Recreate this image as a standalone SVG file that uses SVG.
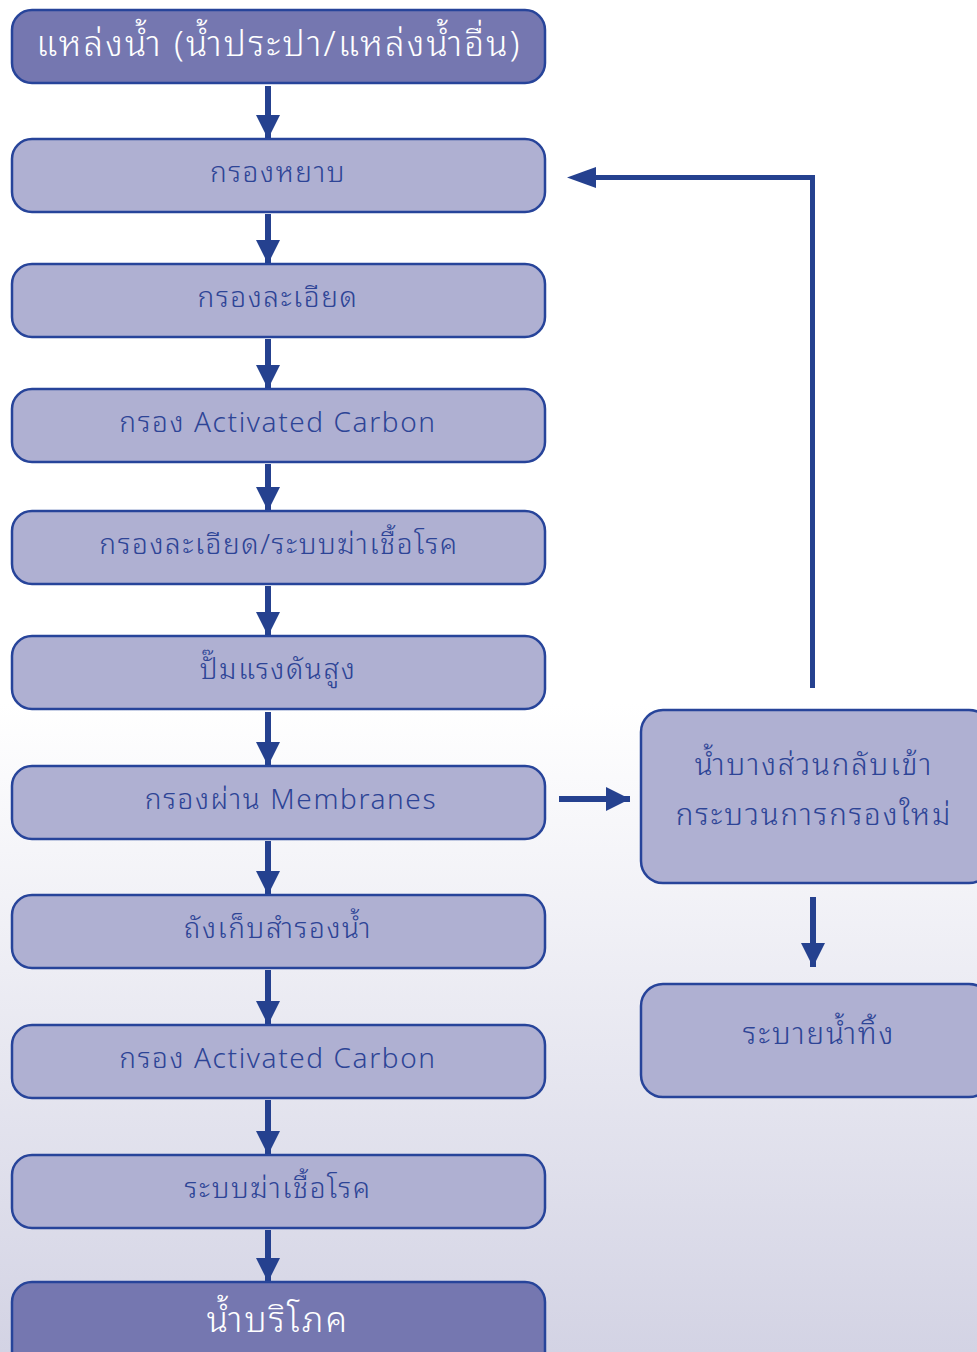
<svg xmlns="http://www.w3.org/2000/svg" width="977" height="1352" viewBox="0 0 977 1352">
<defs>
<linearGradient id="bg" x1="0" y1="0" x2="0" y2="1352" gradientUnits="userSpaceOnUse">
<stop offset="0" stop-color="#ffffff"/>
<stop offset="0.52" stop-color="#ffffff"/>
<stop offset="1" stop-color="#d3d3e4"/>
</linearGradient>
<marker id="ah" viewBox="0 0 10 10" refX="10" refY="5" markerWidth="4" markerHeight="4.3" markerUnits="strokeWidth" orient="auto">
<path d="M0,0 L10,5 L0,10 Z" fill="#25418f"/>
</marker>
<style>
.box{fill:#afb0d2;stroke:#27449a;stroke-width:2.5}
.dark{fill:#7577b0;stroke:#27449a;stroke-width:2.5}
.t{font-family:"Noto Sans Thai Looped","Loma","Garuda","Kinnari","Sarabun","Noto Sans Thai","DejaVu Sans",sans-serif;font-size:28px;font-weight:300;letter-spacing:1.6px;fill:#2d4496;text-anchor:middle}
.t2{font-family:"Noto Sans Thai Looped","Loma","Garuda","Kinnari","Sarabun","Noto Sans Thai","DejaVu Sans",sans-serif;font-size:29.5px;font-weight:300;letter-spacing:1.9px;fill:#2d4496;text-anchor:middle}
.tw{font-family:"Noto Sans Thai Looped","Loma","Garuda","Kinnari","Sarabun","Noto Sans Thai","DejaVu Sans",sans-serif;font-size:35px;font-weight:300;letter-spacing:2.2px;fill:#ffffff;text-anchor:middle}
.c{fill:none;stroke:#25418f;stroke-width:6;marker-end:url(#ah)}
.cl{fill:none;stroke:#25418f;stroke-width:5}
</style>
</defs>
<rect width="977" height="1352" fill="url(#bg)"/>
<g id="connectors">
<path class="c" d="M268,86 V139"/>
<path class="c" d="M268,214 V264"/>
<path class="c" d="M268,339 V389"/>
<path class="c" d="M268,464 V511"/>
<path class="c" d="M268,586 V636"/>
<path class="c" d="M268,712 V766"/>
<path class="c" d="M268,841 V895"/>
<path class="c" d="M268,970 V1025"/>
<path class="c" d="M268,1100 V1155"/>
<path class="c" d="M268,1230 V1282"/>
<path class="c" d="M559,799 H630"/>
<path class="c" d="M813,897 V967"/>
<path class="cl" d="M812.5,688 V177.5 H590"/>
<path d="M567,177.5 L596,167 L596,188 Z" fill="#25418f"/>
</g>
<g id="n1"><rect class="dark" x="12" y="10" width="533" height="73" rx="20"/><text class="tw" x="279" y="56">แหล่งน้ำ (น้ำประปา/แหล่งน้ำอื่น)</text></g>
<g id="n2"><rect class="box" x="12" y="139" width="533" height="73" rx="20"/><text class="t" x="278" y="182">กรองหยาบ</text></g>
<g id="n3"><rect class="box" x="12" y="264" width="533" height="73" rx="20"/><text class="t" x="278" y="307">กรองละเอียด</text></g>
<g id="n4"><rect class="box" x="12" y="389" width="533" height="73" rx="20"/><text class="t" x="278" y="432">กรอง  Activated  Carbon</text></g>
<g id="n5"><rect class="box" x="12" y="511" width="533" height="73" rx="20"/><text class="t" x="279" y="554">กรองละเอียด/ระบบฆ่าเชื้อโรค</text></g>
<g id="n6"><rect class="box" x="12" y="636" width="533" height="73" rx="20"/><text class="t" x="278" y="679">ปั๊มแรงดันสูง</text></g>
<g id="n7"><rect class="box" x="12" y="766" width="533" height="73" rx="20"/><text class="t" x="291" y="809">กรองผ่าน  Membranes</text></g>
<g id="n8"><rect class="box" x="12" y="895" width="533" height="73" rx="20"/><text class="t" x="278" y="938">ถังเก็บสำรองน้ำ</text></g>
<g id="n9"><rect class="box" x="12" y="1025" width="533" height="73" rx="20"/><text class="t" x="278" y="1068">กรอง  Activated  Carbon</text></g>
<g id="n10"><rect class="box" x="12" y="1155" width="533" height="73" rx="20"/><text class="t" x="278" y="1198">ระบบฆ่าเชื้อโรค</text></g>
<g id="n11"><rect class="dark" x="12" y="1282" width="533" height="90" rx="20"/><text class="tw" x="278" y="1332">น้ำบริโภค</text></g>
<g id="n12"><rect class="box" x="641" y="710" width="350" height="173" rx="22"/><text class="t2" x="814" y="775">น้ำบางส่วนกลับเข้า</text><text class="t2" x="814" y="825">กระบวนการกรองใหม่</text></g>
<g id="n13"><rect class="box" x="641" y="984" width="350" height="113" rx="22"/><text class="t2" x="819" y="1044">ระบายน้ำทิ้ง</text></g>
</svg>
